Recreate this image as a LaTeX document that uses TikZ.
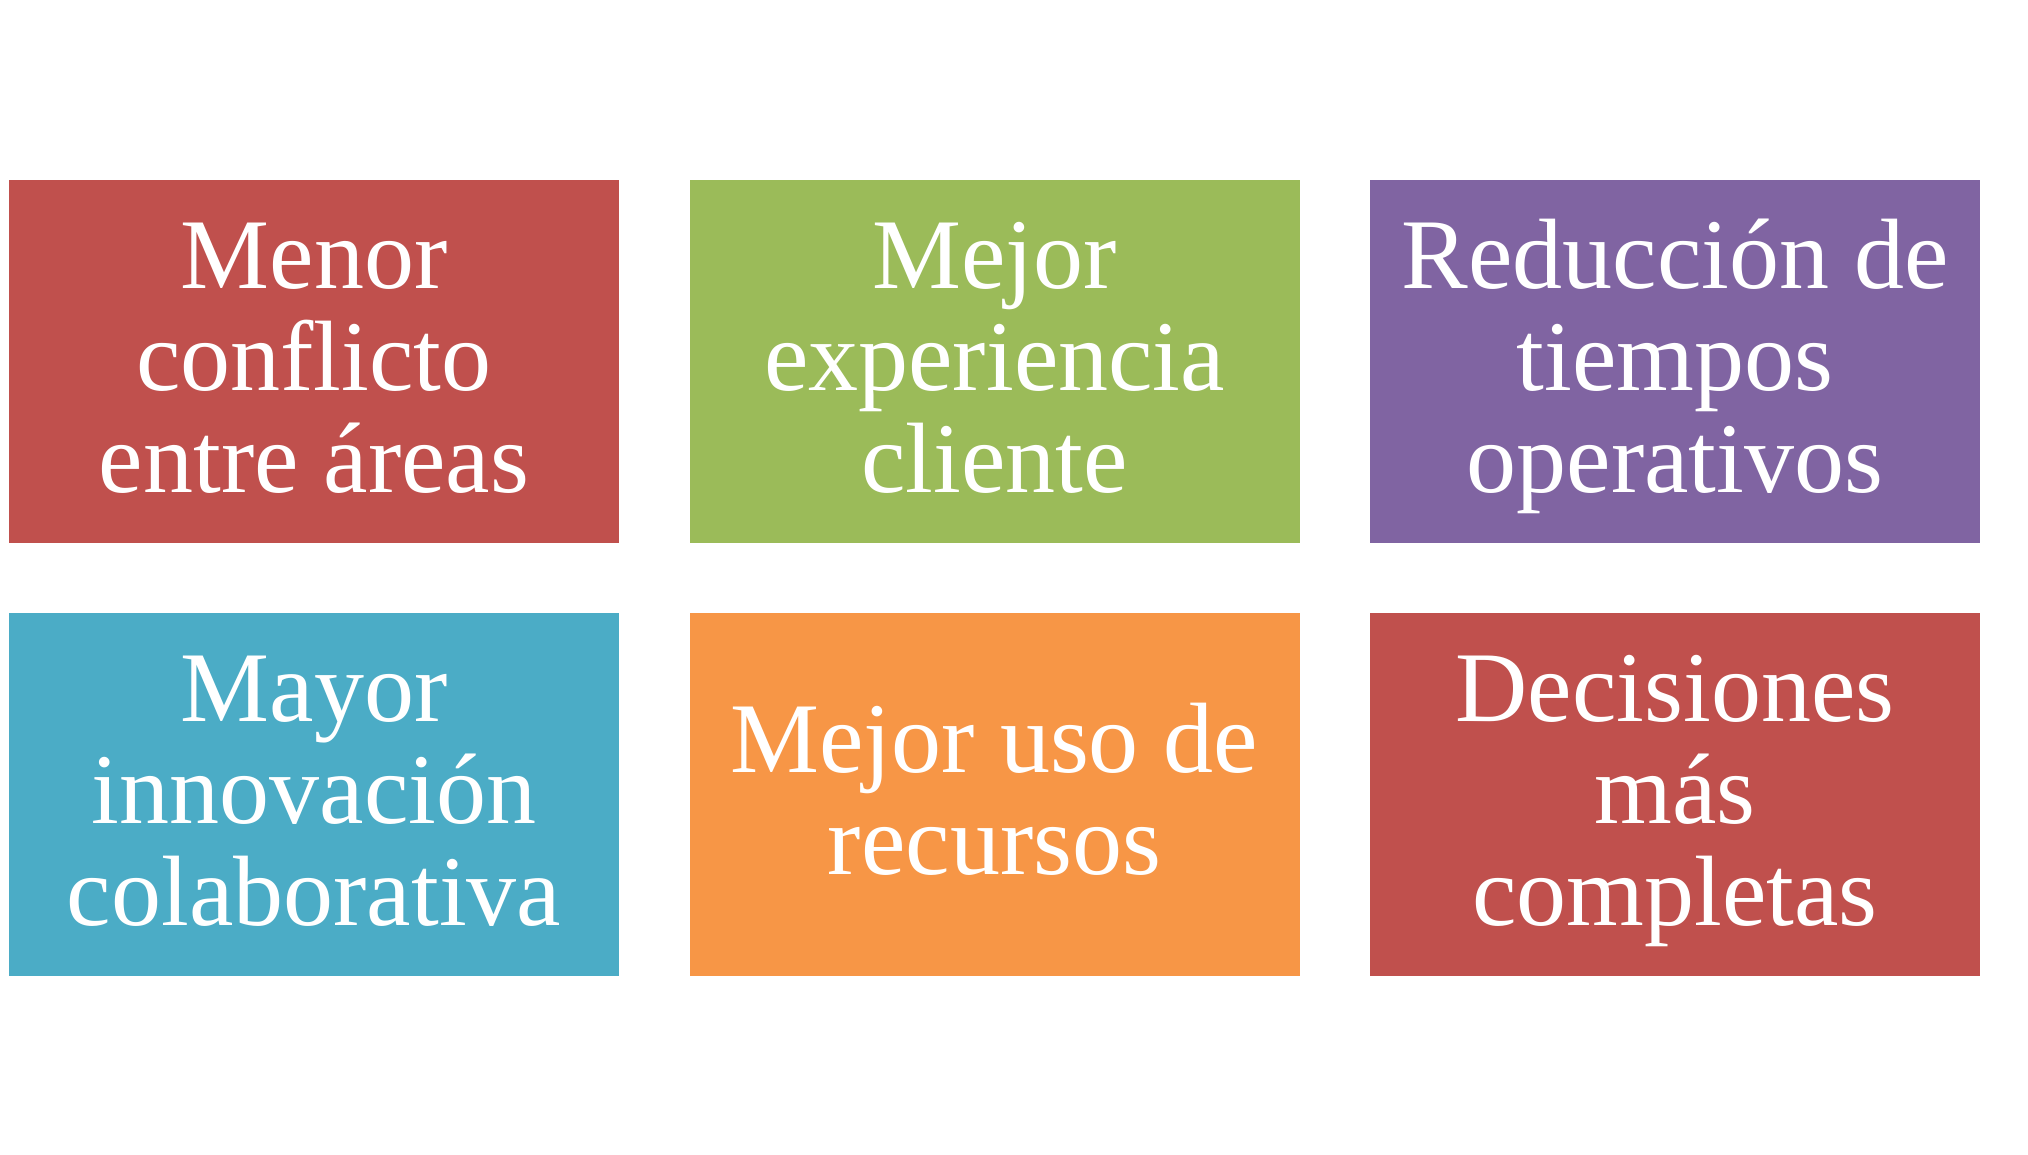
\documentclass[tikz,border=0pt]{standalone}
\usepackage{fontspec}
\setmainfont{Liberation Serif}
\definecolor{cRed}{HTML}{C0504D}
\definecolor{cGreen}{HTML}{9BBB59}
\definecolor{cPurple}{HTML}{8064A2}
\definecolor{cBlue}{HTML}{4BACC6}
\definecolor{cOrange}{HTML}{F79646}
\newcommand{\ls}{\vrule height 80pt depth 22pt width 0pt}
\tikzset{
  tile/.style={rectangle, draw=none, fill=#1, minimum width=610pt, minimum height=363pt,
    inner sep=0pt, outer sep=0pt, text=white, align=center,
    font=\fontsize{100}{102}\selectfont}
}
\begin{document}
\begin{tikzpicture}[x=1pt,y=-1pt]
\useasboundingbox (0,0) rectangle (2028,1155);
\fill[white] (0,0) rectangle (2028,1155);
\node[tile=cRed]    (a) at (314,361.5)   {\ls Menor\\\ls conflicto\\\ls entre áreas};
\node[tile=cGreen]  (b) at (994.5,361.5) {\ls Mejor\\\ls experiencia\\\ls cliente};
\node[tile=cPurple] (c) at (1675,361.5)  {\ls Reducción de\\\ls tiempos\\\ls operativos};
\node[tile=cBlue]   (d) at (314,794.5)   {\ls Mayor\\\ls innovación\\\ls colaborativa};
\node[tile=cOrange] (e) at (994.5,794.5) {\ls Mejor uso de\\\ls recursos};
\node[tile=cRed]    (f) at (1675,794.5)  {\ls Decisiones\\\ls más\\\ls completas};
\end{tikzpicture}
\end{document}
